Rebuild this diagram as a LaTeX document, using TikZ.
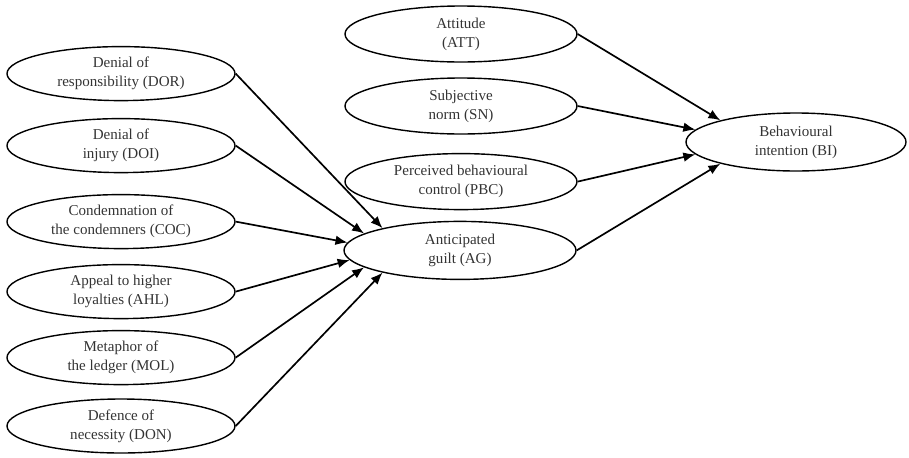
\documentclass[tikz,border=0pt]{standalone}
\usepackage{fontspec}
\setmainfont{Liberation Serif}
\usetikzlibrary{shapes,arrows.meta,positioning}

\begin{document}
\begin{tikzpicture}[
   construct/.style={draw=black,ellipse,line width=1pt,minimum width=5.7cm,minimum height=1.35cm,
                     inner sep=0,align=center,text=black!80,font=\fontsize{10.7}{13.5}\selectfont},
   effect/.style={line width=1.2pt,-{Latex[length=3mm,width=2.4mm]}}]

   % Frame of the picture
   \useasboundingbox (0,0) rectangle (22.725,-11.425);

   % Neutralization techniques
   \node[construct] (DOR) at (3.025,-1.84) {Denial of\\responsibility (DOR)};
   \node[construct] (DOI) at (3.025,-3.64) {Denial of\\injury (DOI)};
   \node[construct] (COC) at (3.025,-5.54) {Condemnation of\\the condemners (COC)};
   \node[construct] (AHL) at (3.025,-7.29) {Appeal to higher\\loyalties (AHL)};
   \node[construct] (MOL) at (3.025,-8.94) {Metaphor of\\the ledger (MOL)};
   \node[construct] (DON) at (3.025,-10.65) {Defence of\\necessity (DON)};

   % Planned behaviour constructs
   \node[construct,minimum width=5.8cm,minimum height=1.4cm] (ATT) at (11.525,-0.85) {Attitude\\(ATT)};
   \node[construct,minimum width=5.8cm,minimum height=1.4cm] (SN) at (11.525,-2.65) {Subjective\\norm (SN)};
   \node[construct,minimum width=5.8cm,minimum height=1.4cm] (PBC) at (11.525,-4.54) {Perceived behavioural\\control (PBC)};
   \node[construct,minimum width=5.8cm,minimum height=1.45cm] (AG) at (11.5,-6.26) {Anticipated\\guilt (AG)};

   % Outcome
   \node[construct,minimum width=5.5cm,minimum height=1.45cm] (BI) at (19.9,-3.55) {Behavioural\\intention (BI)};

   % Paths into anticipated guilt
   \draw[effect] (DOR.east) -- (AG.164);
   \draw[effect] (DOI.east) -- (AG.170);
   \draw[effect] (COC.east) -- (AG.176);
   \draw[effect] (AHL.east) -- (AG.185);
   \draw[effect] (MOL.east) -- (AG.190);
   \draw[effect] (DON.east) -- (AG.196);

   % Paths into behavioural intention
   \draw[effect] (ATT.east) -- (BI.164);
   \draw[effect] (SN.east) -- (BI.173);
   \draw[effect] (PBC.east) -- (BI.187);
   \draw[effect] (AG.east) -- (BI.196);

\end{tikzpicture}
\end{document}
